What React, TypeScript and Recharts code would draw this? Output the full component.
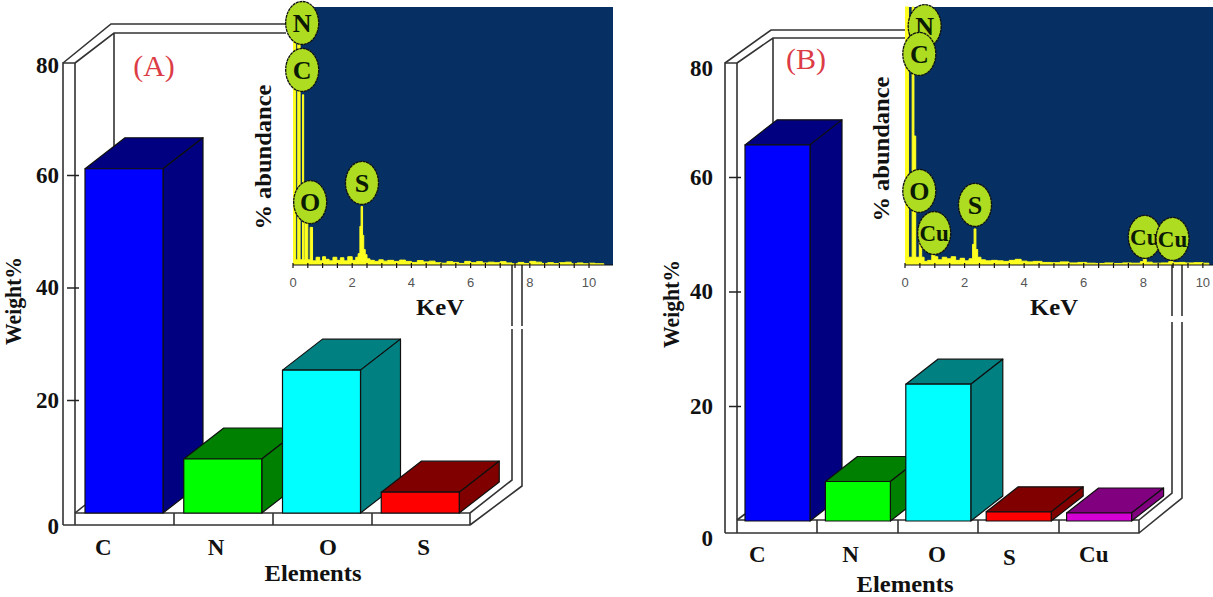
import React from 'react';
import { BarChart, Bar, XAxis, YAxis, AreaChart, Area, CartesianGrid, ReferenceDot } from 'recharts';

// ---- Bar data
const elementsA = ['C', 'N', 'O', 'S'];
const weightA = [61.2, 9.6, 25.4, 3.7];
const elementsB = ['C', 'N', 'O', 'S', 'Cu'];
const weightB = [65.7, 6.9, 23.9, 1.6, 1.4];
const weightTicks = [0, 20, 40, 60, 80];
const frontColors = ['#0000ff', '#00ff00', '#00ffff', '#ff0000', '#d400d4'];
const darkColors = ['#000080', '#008000', '#008080', '#800000', '#800080'];

// ---- Spectrum data (keV, % abundance)
const keVA = [0, 0.09, 0.16, 0.24, 0.32, 0.36, 0.4, 0.5, 0.58, 0.66, 0.78, 0.9, 1.0, 1.1, 1.22, 1.35, 1.48, 1.6, 1.72, 1.85, 2.0, 2.12, 2.2, 2.26, 2.3, 2.35, 2.39, 2.44, 2.5, 2.6, 2.75, 2.9, 3.05, 3.2, 3.4, 3.6, 3.8, 4.0, 4.2, 4.4, 4.6, 4.8, 5.0, 5.2, 5.4, 5.6, 5.8, 6.0, 6.2, 6.4, 6.6, 6.8, 7.0, 7.2, 7.4, 7.6, 7.8, 8.0, 8.2, 8.4, 8.6, 8.8, 9.0, 9.2, 9.4, 9.6, 9.8, 10.0, 10.2, 10.5];
const abundanceA = [100, 2, 100, 2, 66, 2, 20, 2, 14.6, 1.6, 3, 1.6, 3.2, 2.2, 1.6, 3, 1.8, 2.8, 1.6, 3.2, 1.8, 3, 4.4, 15, 22.7, 11.5, 6, 4, 2.4, 1.8, 1.4, 2, 1.5, 1.8, 1.4, 1.9, 1.4, 1.0, 1.7, 1.2, 1.5, 0.9, 0.7, 1.3, 1.0, 0.6, 1.4, 0.9, 1.3, 0.8, 1.1, 0.9, 1.3, 0.8, 0.5, 1.0, 0.6, 1.4, 1.1, 0.6, 0.9, 0.6, 0.9, 1.1, 0.5, 0.8, 0.5, 0.7, 0.5, 0];
const keVB = [0, 0.12, 0.24, 0.3, 0.36, 0.48, 0.56, 0.64, 0.76, 0.9, 1.0, 1.1, 1.25, 1.4, 1.55, 1.7, 1.85, 2.0, 2.15, 2.27, 2.32, 2.38, 2.44, 2.55, 2.7, 2.9, 3.1, 3.3, 3.5, 3.7, 3.9, 4.1, 4.3, 4.6, 4.9, 5.2, 5.5, 5.8, 6.1, 6.4, 6.7, 7.0, 7.3, 7.6, 7.9, 8.0, 8.1, 8.3, 8.6, 8.85, 9.0, 9.2, 9.4, 9.7, 10.0, 10.2];
const abundanceB = [100, 3, 100, 50, 3, 9, 3, 1.4, 1.8, 4, 3.2, 2, 3, 2.4, 3.2, 1.8, 2.6, 1.6, 2.4, 8, 14, 6, 3, 2, 1.6, 1.8, 1.6, 1.4, 1.8, 2.2, 1.5, 1.2, 1.4, 1.0, 0.9, 1.2, 0.8, 1.0, 0.7, 0.6, 0.8, 0.6, 0.8, 0.7, 1.3, 2.2, 1.1, 0.7, 0.8, 1.3, 0.9, 1.0, 0.8, 0.9, 0.7, 0];
const keVTicks = [0, 0.5, 1, 1.5, 2, 2.5, 3, 3.5, 4, 4.5, 5, 5.5, 6, 6.5, 7, 7.5, 8, 8.5, 9, 9.5, 10];

// ---- Peak labels
const peaksA = [
  { name: 'N', keV: 0.31, level: 93.8 },
  { name: 'C', keV: 0.31, level: 75.6 },
  { name: 'O', keV: 0.58, level: 24.4 },
  { name: 'S', keV: 2.33, level: 31.8 },
];
const peaksB = [
  { name: 'N', keV: 0.66, level: 92.6 },
  { name: 'C', keV: 0.48, level: 81.8 },
  { name: 'O', keV: 0.48, level: 28.7 },
  { name: 'Cu', keV: 0.98, level: 12.4 },
  { name: 'S', keV: 2.35, level: 23.3 },
  { name: 'Cu', keV: 8.05, level: 10.9 },
  { name: 'Cu', keV: 8.98, level: 10.1 },
];

const serif = '"Liberation Serif", serif';
const rows = (cats: string[], vals: number[]) => cats.map((name, i) => ({ name, weight: vals[i] }));
const spectrum = (xs: number[], ys: number[]) => xs.map((keV, i) => ({ keV, abundance: ys[i] }));

const makeBox = (dx: number, dy: number) => (p: any) => {
  const { x, y, width: w, height: h, index } = p;
  const dark = darkColors[index];
  const st = { stroke: '#101010', strokeWidth: 1.2, strokeLinejoin: 'round' as const };
  return (
    <g>
      <path d={`M${x} ${y}L${x + dx} ${y - dy}L${x + w + dx} ${y - dy}L${x + w} ${y}Z`} fill={dark} {...st} />
      <path d={`M${x + w} ${y}L${x + w + dx} ${y - dy}L${x + w + dx} ${y + h - dy}L${x + w} ${y + h}Z`} fill={dark} {...st} />
      <rect x={x} y={y} width={w} height={h} fill={frontColors[index]} {...st} />
    </g>
  );
};

const makeYTick = (zeroShift: number, gap: number, topShift: number) => (p: any) => {
  const { x, y, payload } = p;
  const v = payload.value;
  return (
    <g>
      {v !== 0 && v !== 80 && <line x1={x} x2={x + 12} y1={y} y2={y} stroke="#222" strokeWidth={1.5} />}
      <text x={x - gap} y={y + (v === 0 ? zeroShift : v === 80 ? topShift : 7)} textAnchor="end" fontFamily={serif} fontWeight="bold" fontSize={23} fill="#111">
        {v}
      </text>
    </g>
  );
};

const makeXTick = (nudgeX: number[], baseY: number, nudgeY: number[]) => (p: any) => {
  const { x, payload, index } = p;
  return (
    <text x={x + nudgeX[index]} y={baseY + nudgeY[index]} textAnchor="middle" fontFamily={serif} fontWeight="bold" fontSize={23} fill="#111">
      {payload.value}
    </text>
  );
};

const KeVTick = (p: any) => {
  const { x, y, payload } = p;
  const v = payload.value;
  const axisY = y - 8;
  return (
    <g>
      <line x1={x} x2={x} y1={axisY - 2} y2={axisY + 3} stroke="#111" strokeWidth={1.2} />
      {Number.isInteger(v) && v % 2 === 0 && (
        <text x={x} y={axisY + 22} textAnchor="middle" fontFamily='"Liberation Sans", sans-serif' fontSize={13} fill="#555">
          {v}
        </text>
      )}
    </g>
  );
};

const peakShape = (name: string) => (p: any) => (
  <g>
    <ellipse cx={p.cx} cy={p.cy} rx={16.5} ry={21.5} fill="#aedc20" stroke="#111" strokeWidth={1.3} strokeDasharray="3 0.6" />
    <text x={p.cx} y={p.cy + (name === 'Cu' ? 8 : 9)} textAnchor="middle" fontFamily={serif} fontWeight="bold" fontSize={name === 'Cu' ? 23 : 26} fill="#0a1a05">
      {name}
    </text>
  </g>
);

function Inset({ left, width, maxKeV, marginLeft, marginRight, data, peaks }: any) {
  return (
    <div style={{ position: 'absolute', left, top: 0 }}>
      <AreaChart width={width} height={320} data={data} margin={{ top: 7, right: marginRight, bottom: 0, left: marginLeft }}>
        <CartesianGrid horizontal={false} vertical={false} fill="#062f63" />
        <XAxis dataKey="keV" type="number" domain={[0, maxKeV]} ticks={keVTicks} interval={0} height={55} tick={KeVTick} tickLine={false} stroke="#111" allowDataOverflow />
        <YAxis hide domain={[0, 100]} />
        <Area type="stepAfter" dataKey="abundance" stroke="#ffff20" strokeWidth={1} fill="#ffff20" fillOpacity={1} isAnimationActive={false} dot={false} activeDot={false} />
        {peaks.map((k: any, i: number) => (
          <ReferenceDot key={i} x={k.keV} y={k.level} ifOverflow="visible" shape={peakShape(k.name)} />
        ))}
      </AreaChart>
    </div>
  );
}

const ln = { stroke: '#333', strokeWidth: 1.6, fill: 'none' };

function FrameA() {
  return (
    <g {...ln}>
      <path d="M63 525V63H75V525" />
      <path d="M63 63L111 24H286M75 63L114 33H286M114 33V150" />
      <path d="M63 525H470V513H75M470 525L522 486V265M470 513L512 480V265" />
      <path d="M75 513L85 505" />
      <path d="M174 513V525M273 513V525M372 513V525" />
      <rect x={505} y={326} width={24} height={3} fill="#fff" stroke="none" />
    </g>
  );
}
function FrameB() {
  return (
    <g {...ln}>
      <path d="M725 533V63H737V533" />
      <path d="M725 63L771 30H905M737 63L773 38H905M773 38V125" />
      <path d="M725 533H1139V520H737M1139 533L1182 498V265M1139 520L1172 493V265" />
      <path d="M737 520L745 514" />
      <path d="M817 520V533M898 520V533M978 520V533M1059 520V533" />
      <rect x={1165} y={316} width={24} height={6} fill="#fff" stroke="none" />
    </g>
  );
}

const T = ({ x, y, rot, children, size = 23, fill = '#111', weight = 'bold', len }: any) => (
  <text x={x} y={y} textAnchor="middle" fontFamily={serif} fontWeight={weight} fontSize={size} fill={fill}
    transform={rot ? `rotate(-90 ${x} ${y})` : undefined} textLength={len} lengthAdjust={len ? 'spacingAndGlyphs' : undefined}>
    {children}
  </text>
);

export default function App() {
  return (
    <div style={{ position: 'absolute', left: 0, top: 0, width: 1213, height: 597, background: '#fff', overflow: 'hidden' }}>
      <svg width={1213} height={597} style={{ position: 'absolute', left: 0, top: 0 }}>
        <FrameA />
        <FrameB />
      </svg>
      <div style={{ position: 'absolute', left: 0, top: 0 }}>
        <BarChart width={606} height={597} data={rows(elementsA, weightA)} margin={{ top: 63, right: 136, bottom: 0, left: 0 }}>
          <YAxis width={75} domain={[0, 80]} ticks={weightTicks} axisLine={false} tickLine={false} tick={makeYTick(21, 8, 10)} />
          <XAxis dataKey="name" height={84} axisLine={false} tickLine={false} interval={0} tick={makeXTick([-21, -7, 6, 3], 555, [0, 0, 0, 0])} />
          <Bar dataKey="weight" barSize={78} isAnimationActive={false} shape={makeBox(40, 31)} />
        </BarChart>
      </div>
      <div style={{ position: 'absolute', left: 606, top: 0 }}>
        <BarChart width={607} height={597} data={rows(elementsB, weightB)} margin={{ top: 63, right: 74, bottom: 0, left: 0 }}>
          <YAxis width={131} domain={[0, 80]} ticks={weightTicks} axisLine={false} tickLine={false} tick={makeYTick(25, 16, 13)} />
          <XAxis dataKey="name" height={76} axisLine={false} tickLine={false} interval={0} tick={makeXTick([-20, -7, -1, -9, -5], 562, [0, 0, 0, 3, 0])} />
          <Bar dataKey="weight" barSize={65} isAnimationActive={false} shape={makeBox(32, 25)} />
        </BarChart>
      </div>
      <Inset left={250} width={375} maxKeV={10.81} marginLeft={43} marginRight={12} data={spectrum(keVA, abundanceA)} peaks={peaksA} />
      <Inset left={862} width={351} maxKeV={10.34} marginLeft={43} marginRight={0} data={spectrum(keVB, abundanceB)} peaks={peaksB} />
      <svg width={1213} height={597} style={{ position: 'absolute', left: 0, top: 0, pointerEvents: 'none' }}>
        <T x={154} y={76} size={30} fill="#dc3c46" weight="normal">(A)</T>
        <T x={806} y={69} size={30} fill="#dc3c46" weight="normal">(B)</T>
        <T x={21} y={301} rot len={88}>Weight%</T>
        <T x={679} y={304} rot len={88}>Weight%</T>
        <T x={313} y={581} len={97}>Elements</T>
        <T x={905} y={592} len={97}>Elements</T>
        <T x={271} y={157} rot size={24} len={145}>% abundance</T>
        <T x={889} y={149} rot size={24} len={145}>% abundance</T>
        <T x={440} y={315} size={24} len={48}>KeV</T>
        <T x={1054} y={315} size={24} len={48}>KeV</T>
      </svg>
    </div>
  );
}
